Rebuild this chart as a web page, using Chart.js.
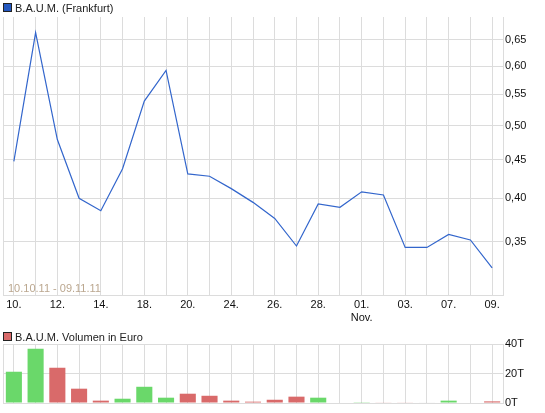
<!DOCTYPE html>
<html>
<head>
<meta charset="utf-8">
<script src="https://cdn.jsdelivr.net/npm/chart.js@4.4.1/dist/chart.umd.min.js"></script>
<style>
  html, body { margin: 0; padding: 0; background: #fff; }
  #wrap { position: relative; width: 545px; height: 413px; }
  #price-box { position: absolute; left: 0; top: 0; width: 545px; height: 322px; }
  #volume-box { position: absolute; left: 0; top: 322px; width: 545px; height: 91px; }
</style>
</head>
<body>
<div id="wrap">
  <div id="price-box"><canvas id="price-chart"></canvas></div>
  <div id="volume-box"><canvas id="volume-chart"></canvas></div>
</div>
<script>
// Handelstage 10.10.11 - 09.11.11
const dates = ['10.10.11', '11.10.11', '12.10.11', '13.10.11', '14.10.11', '17.10.11', '18.10.11', '19.10.11',
    '20.10.11', '21.10.11', '24.10.11', '25.10.11', '26.10.11', '27.10.11', '28.10.11', '31.10.11',
    '01.11.11', '02.11.11', '03.11.11', '04.11.11', '07.11.11', '08.11.11', '09.11.11'];
const tickLabels = ['10.', '', '12.', '', '14.', '', '18.', '', '20.', '', '24.', '', '26.', '', '28.', '',
    ['01.', 'Nov.'], '', '03.', '', '07.', '', '09.'];
const prices = [0.448, 0.665, 0.479, 0.400, 0.385, 0.438, 0.539, 0.592, 0.431, 0.428, 0.412, 0.395,
    0.376, 0.3455, 0.393, 0.389, 0.408, 0.404, 0.344, 0.344, 0.358, 0.352, 0.323];
// Volumen in Tausend Euro
const volumes = [21.2, 36.8, 23.9, 9.7, 1.6, 2.9, 11.0, 3.6, 6.3, 4.9, 1.6, 0.9,
    2.2, 4.3, 3.6, 0, 0.5, 0.4, 0.4, 0.3, 1.6, 0, 1.1];
const priceTicks = [0.35, 0.40, 0.45, 0.50, 0.55, 0.60, 0.65];
const volumeTicks = [0, 20, 40];

const FONT = 'Liberation Sans, Arial, sans-serif';
const GRID = '#dcdcdc';

const volumeColors = volumes.map((v, i) => {
    if (i === 0 || prices[i] > prices[i - 1]) return '#6ad86a';
    if (prices[i] < prices[i - 1]) return '#d96a6a';
    return '#bbbbbb';
});

function legendPlugin(text, color, boxY, textY) {
    return {
        id: 'ownLegend',
        afterDraw(chart) {
            const ctx = chart.ctx;
            ctx.save();
            ctx.fillStyle = color;
            ctx.fillRect(3.5, boxY + 0.5, 8, 8);
            ctx.strokeStyle = '#222';
            ctx.lineWidth = 1;
            ctx.strokeRect(3.5, boxY + 0.5, 8, 8);
            ctx.fillStyle = '#222';
            ctx.font = '11px ' + FONT;
            ctx.textBaseline = 'alphabetic';
            ctx.fillText(text, 15, textY);
            ctx.restore();
        }
    };
}

const rangePlugin = {
    id: 'rangeText',
    afterDraw(chart) {
        const ctx = chart.ctx;
        ctx.save();
        ctx.fillStyle = '#bba78f';
        ctx.font = '11px ' + FONT;
        ctx.fillText(dates[0] + ' - ' + dates[dates.length - 1], 8, 292);
        ctx.restore();
    }
};

new Chart(document.getElementById('price-chart'), {
    type: 'line',
    data: {
        labels: dates,
        datasets: [{
            data: prices,
            borderColor: '#3366cc',
            borderWidth: 1.2,
            pointRadius: 0,
            tension: 0,
            fill: false
        }]
    },
    options: {
        responsive: true,
        maintainAspectRatio: false,
        animation: false,
        layout: { padding: { left: 3, top: 17, right: 0, bottom: 0 } },
        plugins: { legend: { display: false }, tooltip: { enabled: false } },
        scales: {
            x: {
                offset: true,
                grid: { color: GRID, offset: false, drawTicks: false },
                border: { color: GRID },
                ticks: {
                    autoSkip: false,
                    maxRotation: 0,
                    padding: 3,
                    color: '#111',
                    font: { family: FONT, size: 11 },
                    callback: (v, i) => tickLabels[i]
                },
                afterFit: s => { s.height = 27; }
            },
            y: {
                type: 'logarithmic',
                position: 'right',
                min: 0.2973,
                max: 0.6975,
                grid: { color: GRID, drawTicks: false },
                border: { color: GRID },
                ticks: {
                    padding: 2,
                    color: '#111',
                    font: { family: FONT, size: 11 },
                    callback: v => v.toFixed(2).replace('.', ',')
                },
                afterBuildTicks: s => { s.ticks = priceTicks.map(v => ({ value: v })); },
                afterFit: s => { s.width = 42; }
            },
            yl: {
                position: 'left',
                grid: { display: false },
                border: { color: GRID },
                ticks: { display: false },
                afterFit: s => { s.width = 0; }
            }
        }
    },
    plugins: [legendPlugin('B.A.U.M. (Frankfurt)', '#2458c0', 3, 12), rangePlugin]
});

new Chart(document.getElementById('volume-chart'), {
    type: 'bar',
    data: {
        labels: dates,
        datasets: [{
            data: volumes,
            backgroundColor: volumeColors,
            borderWidth: 0,
            categoryPercentage: 1,
            barPercentage: 0.74
        }]
    },
    options: {
        responsive: true,
        maintainAspectRatio: false,
        animation: false,
        layout: { padding: { left: 3, top: 22, right: 0, bottom: 10 } },
        plugins: { legend: { display: false }, tooltip: { enabled: false } },
        scales: {
            x: {
                grid: { color: GRID, offset: false, drawTicks: false },
                border: { display: false },
                ticks: { display: false },
                afterFit: s => { s.height = 0; }
            },
            y: {
                position: 'right',
                min: 0,
                max: 40,
                grid: { color: GRID, drawTicks: false },
                border: { color: GRID },
                ticks: {
                    padding: 2,
                    color: '#111',
                    font: { family: FONT, size: 11 },
                    callback: v => v + 'T'
                },
                afterBuildTicks: s => { s.ticks = volumeTicks.map(v => ({ value: v })); },
                afterFit: s => { s.width = 42; }
            },
            yl: {
                position: 'left',
                grid: { display: false },
                border: { color: GRID },
                ticks: { display: false },
                afterFit: s => { s.width = 0; }
            }
        }
    },
    plugins: [legendPlugin('B.A.U.M. Volumen in Euro', '#d96a6a', 10, 19)]
});
</script>
</body>
</html>
